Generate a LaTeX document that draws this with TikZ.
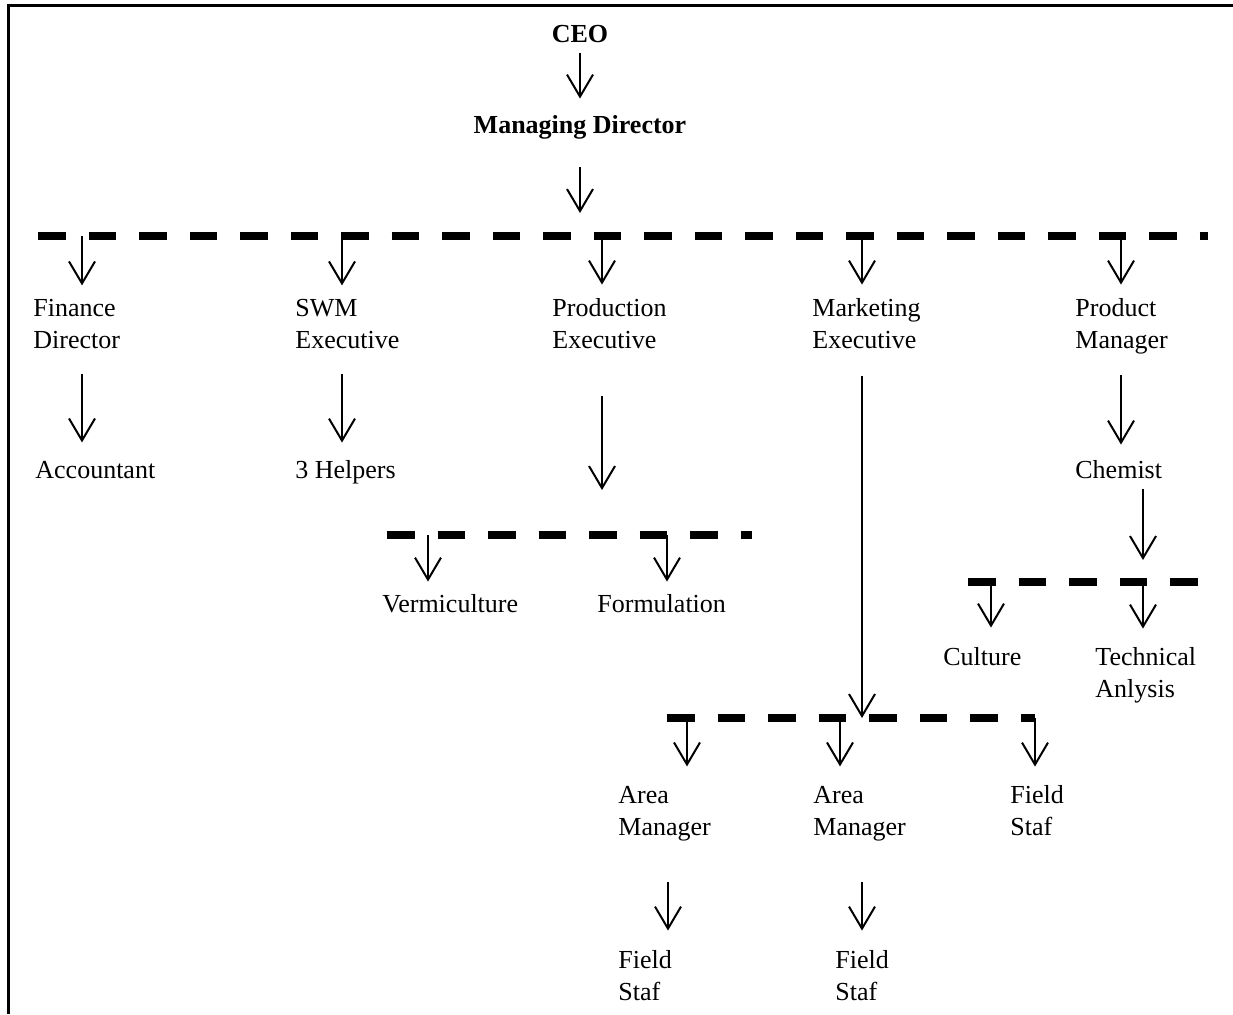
\documentclass[tikz,border=0pt]{standalone}
\usepackage{fontspec}
\setmainfont{Liberation Serif}
\usetikzlibrary{arrows.meta,calc}

\tikzset{
  lbl/.style={anchor=base west,align=left,inner sep=0pt,font=\fontsize{13}{16}\selectfont},
  arr/.style={line width=1pt,-{Straight Barb[length=11pt,width=13pt,line width=1pt]}},
  bar/.style={line width=4pt,dash pattern=on 13.75pt off 11.5pt}
}

\begin{document}
\begin{tikzpicture}[x=0.5pt,y=-0.5pt]
\useasboundingbox (0,0) rectangle (1233,1014);
\draw[line width=1.5pt] (8.5,1014) -- (8.5,5.5) -- (1233,5.5);

% top of the chart
\node[lbl,anchor=base,font=\fontsize{13}{16}\selectfont\bfseries] (ceo) at (580,42) {CEO};
\node[lbl,anchor=base,font=\fontsize{13}{16}\selectfont\bfseries] (md) at (580,133) {Managing Director};

% dashed bars
\coordinate (b1l) at (38,236);
\coordinate (b1r) at (1208,236);
\coordinate (b2l) at (387,535);
\coordinate (b2r) at (752,535);
\coordinate (b3l) at (667,718);
\coordinate (b3r) at (1035,718);
\coordinate (b4l) at (968,582);
\coordinate (b4r) at (1200,582);
\draw[bar] (b1l) -- (b1r);
\draw[bar] (b2l) -- (b2r);
\draw[bar] (b3l) -- (b3r);
\draw[bar] (b4l) -- (b4r);

% branch points
\coordinate (tfin) at (82,236);
\coordinate (tswm) at (342,236);
\coordinate (tprod) at (602,236);
\coordinate (tmkt) at (862,236);
\coordinate (tpm) at (1121,236);
\coordinate (tverm) at (428,535);
\coordinate (tform) at (667,535);
\coordinate (tam1) at (687,718);
\coordinate (tam2) at (840,718);
\coordinate (tfs1) at (1035,718);
\coordinate (tcult) at (991,582);
\coordinate (ttech) at (1143,582);

% first row (base = last line)
\node[lbl] (fin) at (33,348) {Finance\\Director};
\node[lbl] (swm) at (295,348) {SWM\\Executive};
\node[lbl] (prod) at (552,348) {Production\\Executive};
\node[lbl] (mkt) at (812,348) {Marketing\\Executive};
\node[lbl] (pm) at (1075,348) {Product\\Manager};

% second row
\node[lbl] (acc) at (35,478) {Accountant};
\node[lbl] (hlp) at (295,478) {3 Helpers};
\node[lbl] (chem) at (1075,478) {Chemist};

% lower rows
\node[lbl] (verm) at (382,612) {Vermiculture};
\node[lbl] (form) at (597,612) {Formulation};
\node[lbl] (cult) at (943,665) {Culture};
\node[lbl] (tech) at (1095,697) {Technical\\Anlysis};
\node[lbl] (am1) at (618,835) {Area\\Manager};
\node[lbl] (am2) at (813,835) {Area\\Manager};
\node[lbl] (fs1) at (1010,835) {Field\\Staf};
\node[lbl] (fs2) at (618,1000) {Field\\Staf};
\node[lbl] (fs3) at (835,1000) {Field\\Staf};

% arrows
\draw[arr,shorten <=5pt,shorten >=8pt] (ceo.south) -- (md.north);
\draw[arr,shorten <=14pt,shorten >=11.5pt] (md.south) -- (md.south |- b1l);
\draw[arr,shorten >=6.5pt] (tfin) -- (tfin |- fin.north);
\draw[arr,shorten >=6.5pt] (tswm) -- (tswm |- swm.north);
\draw[arr,shorten >=6.5pt] (tprod) -- (tprod |- prod.north);
\draw[arr,shorten >=6.5pt] (tmkt) -- (tmkt |- mkt.north);
\draw[arr,shorten >=6.5pt] (tpm) -- (tpm |- pm.north);
\draw[arr,shorten <=12.5pt,shorten >=9pt] (tfin |- fin.south) -- (tfin |- acc.north);
\draw[arr,shorten <=12.5pt,shorten >=8.5pt] (tswm |- swm.south) -- (tswm |- hlp.north);
\draw[arr,shorten <=23.5pt,shorten >=22.5pt] (tprod |- prod.south) -- (tprod |- b2l);
\draw[arr,shorten <=13.5pt] (tmkt |- mkt.south) -- (tmkt |- b3l);
\draw[arr,shorten <=10.5pt,shorten >=7.5pt] (tpm |- pm.south) -- (tpm |- chem.north);
\draw[arr,shorten <=5pt,shorten >=11pt] (ttech |- chem.south) -- (ttech);
\draw[arr,shorten >=6pt] (tverm) -- (tverm |- verm.north);
\draw[arr,shorten >=6pt] (tform) -- (tform |- form.north);
\draw[arr,shorten >=9.5pt] (tcult) -- (tcult |- cult.north);
\draw[arr,shorten >=9pt] (ttech) -- (ttech |- tech.north);
\draw[arr,shorten >=9.5pt] (tam1) -- (tam1 |- am1.north);
\draw[arr,shorten >=9.5pt] (tam2) -- (tam2 |- am2.north);
\draw[arr,shorten >=9pt] (tfs1) -- (tfs1 |- fs1.north);
\draw[arr,shorten <=20.5pt,shorten >=9.5pt] ($(am1.south west)+(50,0)$) -- ($(am1.south west |- fs2.north)+(50,0)$);
\draw[arr,shorten <=20.5pt,shorten >=9.5pt] ($(am2.south west)+(49,0)$) -- ($(am2.south west |- fs3.north)+(49,0)$);
\end{tikzpicture}
\end{document}
